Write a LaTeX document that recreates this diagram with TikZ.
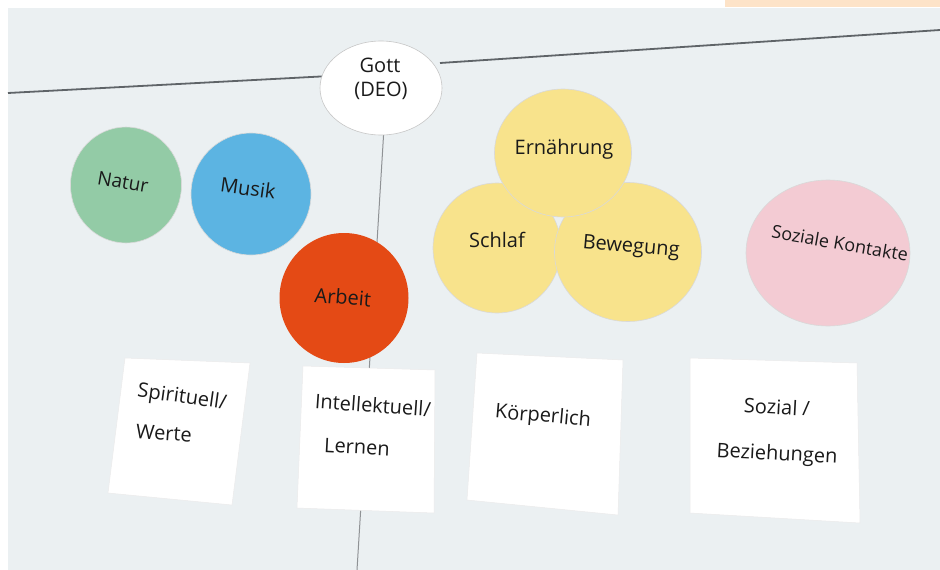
\documentclass[tikz,border=0pt]{standalone}
\usepackage{fontspec}
\setmainfont{Open Sans}
\usetikzlibrary{shapes.geometric}
\definecolor{board}{HTML}{EBF0F2}
\definecolor{boardline}{HTML}{5F6468}
\definecolor{orangebar}{HTML}{FDE3C8}
\definecolor{cgreen}{HTML}{93CBA6}
\definecolor{cblue}{HTML}{5CB4E2}
\definecolor{cred}{HTML}{E44A15}
\definecolor{cyellow}{HTML}{F8E38C}
\definecolor{cpink}{HTML}{F3CBD3}
\definecolor{ink}{HTML}{1A1A1A}
\tikzset{
  disc/.style={ellipse, inner sep=0pt, draw=black!15, line width=0.6pt},
  hand/.style={font=\fontsize{20}{24}\selectfont, text=ink, inner sep=0pt},
  note/.style={fill=white, draw=black!8, line width=0.5pt},
  bline/.style={draw=boardline, line width=1.8pt}
}
\begin{document}
\begin{tikzpicture}[x=1pt,y=-1pt]
\useasboundingbox (0,0) rectangle (940,570);
\fill[white] (0,0) rectangle (940,570);
\fill[board] (8,8) rectangle (940,570);
\fill[orangebar] (725,0) rectangle (940,7);
% board seams
\coordinate (l1) at (8,93);
\coordinate (l2) at (330,76);
\coordinate (r1) at (440,63);
\coordinate (r2) at (940,30);
\coordinate (v1) at (386,95);
\coordinate (v2) at (357,570);
\draw[bline] (l1) -- (l2);
\draw[bline] (r1) -- (r2);
\draw[draw=boardline!70, line width=1pt] (v1) -- (v2);
% Gott
\node[disc, fill=white, draw=black!22, minimum width=122, minimum height=94] (gott) at (381,88) {};
\node[hand] (gottT) at (380,65) {Gott};
\node[hand] (deoT) at (381,91) {(DEO)};
% left discs
\node[disc, fill=cgreen, minimum width=111, minimum height=116] (natur) at (126,185) {};
\node[hand, font=\fontsize{19}{22}\selectfont, rotate=-10] (naturT) at (123,182) {Natur};
\node[disc, fill=cblue, minimum width=120, minimum height=122] (musik) at (251,194) {};
\node[hand, rotate=-8] (musikT) at (248,188) {Musik};
\node[disc, fill=cred, draw=none, minimum width=129, minimum height=130] (arbeit) at (344,298) {};
\node[hand, rotate=-5] (arbeitT) at (343,297) {Arbeit};
% yellow cluster
\node[disc, fill=cyellow, minimum width=128, minimum height=130] (schlaf) at (497,248) {};
\node[disc, fill=cyellow, minimum width=147, minimum height=139] (beweg) at (628,252) {};
\node[disc, fill=cyellow, minimum width=137, minimum height=128] (ernae) at (563,153) {};
\node[hand] (ernaeT) at (564,149) {Ernährung};
\node[hand] (schlafT) at (497,240) {Schlaf};
\node[hand, rotate=-5] (bewegT) at (631,248) {Bewegung};
% pink
\node[disc, fill=cpink, minimum width=164, minimum height=146] (sozk) at (828,253) {};
\node[hand, font=\fontsize{18}{22}\selectfont, rotate=-10] (sozkT) at (840,243) {Soziale Kontakte};
% notes
\path[note] (125,358) -- (250,363) -- (232,505) -- (108,493) -- cycle;
\path[note] (303,366) -- (435,370) -- (434,513) -- (297,508) -- cycle;
\path[note] (477,353) -- (623,360) -- (618,515) -- (467,500) -- cycle;
\path[note] (690,358) -- (857,363) -- (860,523) -- (690,513) -- cycle;
\node[hand, rotate=-8] (spirT) at (182,398) {Spirituell/};
\node[hand, rotate=-4] (werteT) at (164,433) {Werte};
\node[hand, rotate=-4] (intT) at (373,405) {Intellektuell/};
\node[hand, rotate=-3] (lernT) at (357,447) {Lernen};
\node[hand, rotate=-5] (koerT) at (543,417) {Körperlich};
\node[hand, rotate=-3] (sozT) at (777,407) {Sozial /};
\node[hand, rotate=-3] (bezT) at (777,455) {Beziehungen};
\end{tikzpicture}
\end{document}
